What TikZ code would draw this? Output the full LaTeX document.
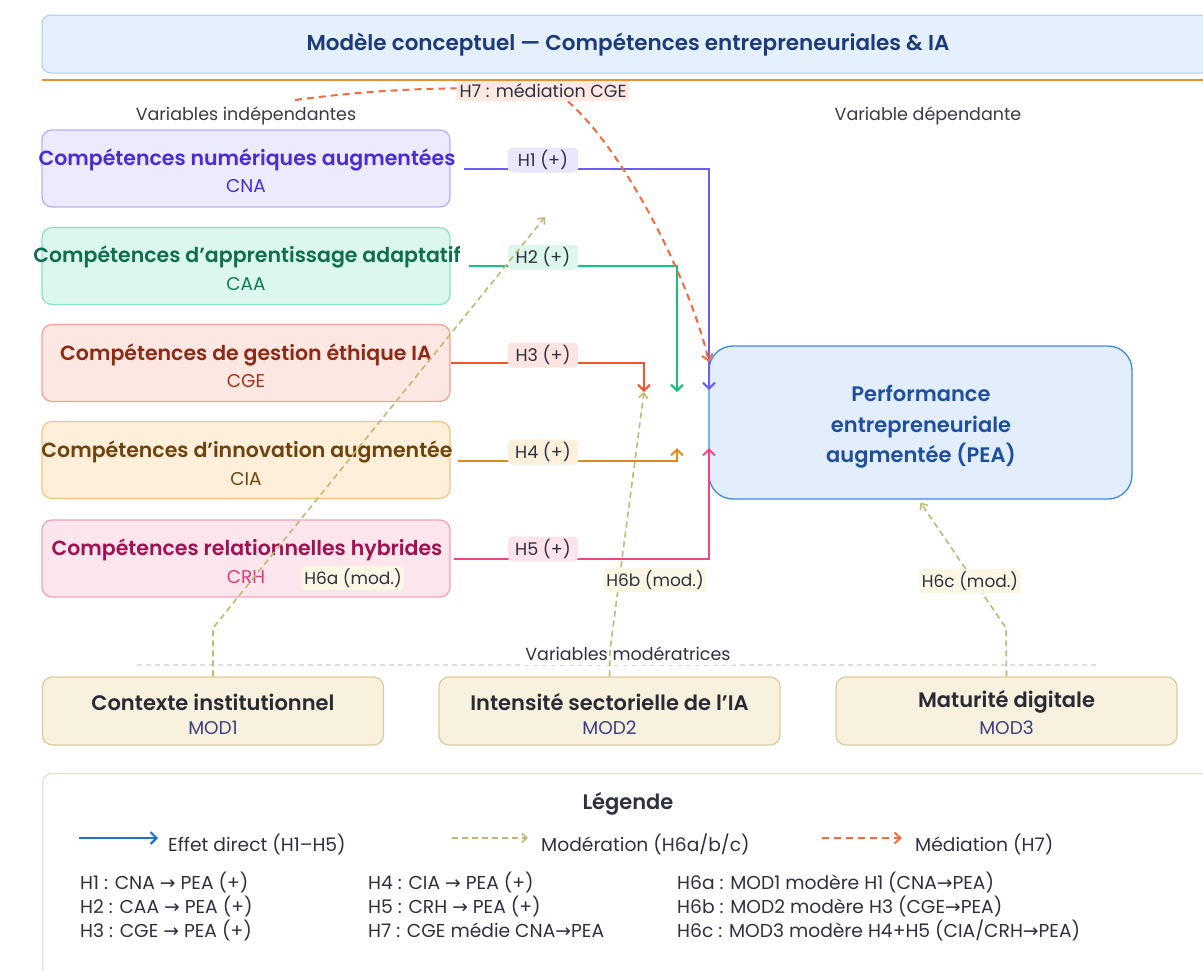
\documentclass[tikz,border=0pt]{standalone}
\usepackage{fontspec}
\setmainfont{Poppins}
\newfontfamily\pop{Poppins}
\newfontfamily\popsb{Poppins SemiBold}
\newfontfamily\dv{DejaVu Sans}
\usetikzlibrary{arrows.meta,calc}
\definecolor{ttlF}{HTML}{E4F0FC}\definecolor{ttlB}{HTML}{A9CBEF}\definecolor{ttlT}{HTML}{1D3B7A}
\definecolor{rule}{HTML}{E7902F}
\definecolor{hdr}{HTML}{3A3A48}
\definecolor{cnaF}{HTML}{ECEBFD}\definecolor{cnaB}{HTML}{B7AEF5}\definecolor{cnaT}{HTML}{4A2BD6}\definecolor{cnaL}{HTML}{6B5CF5}\definecolor{cnaH}{HTML}{E9E7FC}
\definecolor{caaF}{HTML}{DCF8EE}\definecolor{caaB}{HTML}{86E3C3}\definecolor{caaT}{HTML}{0F6E4D}\definecolor{caaL}{HTML}{16C07F}\definecolor{caaH}{HTML}{DDF7EC}
\definecolor{cgeF}{HTML}{FDE7E2}\definecolor{cgeB}{HTML}{F3A190}\definecolor{cgeT}{HTML}{8E2A14}\definecolor{cgeL}{HTML}{F2542D}\definecolor{cgeH}{HTML}{FCE5E0}
\definecolor{ciaF}{HTML}{FDEFD9}\definecolor{ciaB}{HTML}{F3C47E}\definecolor{ciaT}{HTML}{6E440C}\definecolor{ciaL}{HTML}{E08A1E}\definecolor{ciaH}{HTML}{FCEFDB}
\definecolor{crhF}{HTML}{FDE5EE}\definecolor{crhB}{HTML}{F3A0BF}\definecolor{crhT}{HTML}{A01150}\definecolor{crhL}{HTML}{F0447E}\definecolor{crhH}{HTML}{FCE4ED}
\definecolor{peaF}{HTML}{E2EEFC}\definecolor{peaB}{HTML}{3B8AE6}\definecolor{peaT}{HTML}{1E4F9E}
\definecolor{modF}{HTML}{F7F1DE}\definecolor{modB}{HTML}{DCCB9C}\definecolor{modT}{HTML}{2A2A35}\definecolor{modS}{HTML}{3D3F85}
\definecolor{modL}{HTML}{C2B874}\definecolor{modH}{HTML}{FBF7E4}
\definecolor{medL}{HTML}{F26A3E}\definecolor{medH}{HTML}{FDE9E2}
\definecolor{legT}{HTML}{2F3040}\definecolor{legB}{HTML}{E6E0CC}\definecolor{dirL}{HTML}{1E6FD0}
\definecolor{sep}{HTML}{DCDCDC}
\tikzset{
  ivbox/.style={draw, rounded corners=10pt, line width=1.2pt, minimum width=408pt, minimum height=77pt, inner sep=0pt},
  modbox/.style={draw=modB, fill=modF, rounded corners=10pt, line width=1.2pt, minimum width=341pt, minimum height=68pt, inner sep=0pt},
  btitle/.style={font=\popsb\fontsize{20.5}{24}\selectfont, inner sep=0pt},
  bsub/.style={font=\pop\fontsize{18.5}{22}\selectfont, inner sep=0pt},
  hlab/.style={font=\pop\fontsize{17.5}{20}\selectfont, text=legT, rounded corners=4pt, minimum width=70pt, minimum height=25pt, inner sep=2pt},
  mlab/.style={font=\pop\fontsize{17}{20}\selectfont, text=legT, fill=modH, rounded corners=3pt, inner sep=2.5pt},
  hdrtxt/.style={font=\pop\fontsize{17.5}{20}\selectfont, text=hdr, inner sep=1pt},
  direct/.style={line width=2pt, -{Straight Barb[length=6pt,width=12pt]}},
  modarr/.style={modL, line width=1.6pt, dash pattern=on 6pt off 4pt, -{Straight Barb[length=5pt,width=9pt]}},
  medarr/.style={medL, line width=2pt, dash pattern=on 7pt off 5pt, -{Straight Barb[length=6pt,width=11pt]}},
  legtxt/.style={font=\pop\fontsize{18.7}{21}\selectfont, text=legT, anchor=west, inner sep=0pt},
}
\begin{document}
\begin{tikzpicture}[x=1pt,y=-1pt]
\useasboundingbox (0,0) rectangle (1203,970);
\fill[white] (0,0) rectangle (1203,970);
% title
\node[draw=ttlB, fill=ttlF, rounded corners=9pt, line width=1pt, minimum width=1175pt, minimum height=58pt, inner sep=0pt] (title) at (629.5,44) {};
\node[font=\popsb\fontsize{21.5}{24}\selectfont, text=ttlT] (titletxt) at (628,45) {Modèle conceptuel — Compétences entrepreneuriales \& IA};
\draw[rule, line width=2pt] (42,80) coordinate (r0) -- (1210,80) coordinate (r1);
% headers
\node[hdrtxt] (hind) at (246,116) {Variables indépendantes};
\node[hdrtxt] (hdep) at (928,116) {Variable dépendante};
% PEA
\node[draw=peaB, fill=peaF, rounded corners=24pt, line width=1.3pt, minimum width=423pt, minimum height=153pt, inner sep=0pt] (pea) at (920.5,422.5) {};
\node[font=\popsb\fontsize{21}{30.5}\selectfont, text=peaT, align=center] (peatxt) at (921,427) {Performance\\entrepreneuriale\\augmentée (PEA)};
% independent variable boxes
\node[ivbox, draw=cnaB, fill=cnaF] (cna) at (246,168.5) {};
\node[btitle, text=cnaT] (cnat) at (247,160) {Compétences numériques augmentées};
\node[bsub, text=cnaT] (cnas) at (246,186) {CNA};
\node[ivbox, draw=caaB, fill=caaF] (caa) at (246,266) {};
\node[btitle, text=caaT] (caat) at (247,257) {Compétences d’apprentissage adaptatif};
\node[bsub, text=caaT!85!caaL] (caas) at (246,284) {CAA};
\node[ivbox, draw=cgeB, fill=cgeF] (cge) at (246,363) {};
\node[btitle, text=cgeT] (cget) at (246,355) {Compétences de gestion éthique IA};
\node[bsub, text=cgeT!80!cgeL] (cges) at (246,381) {CGE};
\node[ivbox, draw=ciaB, fill=ciaF] (cia) at (246,460) {};
\node[btitle, text=ciaT] (ciat) at (247,452) {Compétences d’innovation augmentée};
\node[bsub, text=ciaT] (cias) at (246,479) {CIA};
\node[ivbox, draw=crhB, fill=crhF] (crh) at (246,558.5) {};
\node[btitle, text=crhT] (crht) at (247,550) {Compétences relationnelles hybrides};
\node[bsub, text=crhL!80!crhT] (crhs) at (246,577) {CRH};
% end points
\coordinate (t1) at (709,390);
\coordinate (t2) at (677,392);
\coordinate (t3) at (644,392);
\coordinate (t4) at (677,448);
\coordinate (t5) at (709,448);
% direct effects
\draw[direct, cnaL] ($(cnat.east |- 0,169)+(8,0)$) -- (709,169) -- (t1);
\draw[direct, caaL] ($(caat.east |- 0,266)+(8,0)$) -- (677,266) -- (t2);
\draw[direct, cgeL] (cge.east |- 0,363) -- (644,363) -- (t3);
\draw[direct, ciaL] ($(ciat.east |- 0,461)+(5,0)$) -- (677,461) -- (t4);
\draw[direct, crhL] ($(crht.east |- 0,559)+(11,0)$) -- (709,559) -- (t5);
\node[hlab, fill=cnaH] (h1) at (543,160) {H1 (+)};
\node[hlab, fill=caaH] (h2) at (543,257) {H2 (+)};
\node[hlab, fill=cgeH] (h3) at (543,355) {H3 (+)};
\node[hlab, fill=ciaH] (h4) at (543,452) {H4 (+)};
\node[hlab, fill=crhH] (h5) at (543,549) {H5 (+)};
% separator
\draw[sep, line width=1.2pt, dash pattern=on 5pt off 4pt] (137,665) coordinate (s0) -- (1097,665) coordinate (s1);
\node[font=\pop\fontsize{17.5}{20}\selectfont, text=legT, fill=white, inner sep=4pt] (modhdr) at (628,654) {Variables modératrices};
% moderators
\node[modbox] (mod1) at (213,711) {};
\node[font=\popsb\fontsize{21}{24}\selectfont, text=modT, inner sep=0pt] (mod1t) at (213,702) {Contexte institutionnel};
\node[bsub, text=modS] (mod1s) at (213,728) {MOD1};
\node[modbox] (mod2) at (609.5,711) {};
\node[font=\popsb\fontsize{21}{24}\selectfont, text=modT, inner sep=0pt] (mod2t) at (609.5,702) {Intensité sectorielle de l’IA};
\node[bsub, text=modS] (mod2s) at (609.5,728) {MOD2};
\node[modbox] (mod3) at (1006.5,711) {};
\node[font=\popsb\fontsize{21}{24}\selectfont, text=modT, inner sep=0pt] (mod3t) at (1006.5,702) {Maturité digitale};
\node[bsub, text=modS] (mod3s) at (1006.5,728) {MOD3};
% moderation arrows
\coordinate (m1) at (545,217);
\draw[modarr] (mod1.north) -- (213,628) -- (m1);
\draw[modarr] (mod2.north) -- (610,650) -- (t3);
\draw[modarr] (mod3.north) -- (1006,628) -- ([yshift=-3pt]pea.south);
\node[mlab] (h6a) at (353,578) {H6a (mod.)};
\node[mlab] (h6b) at (655,580) {H6b (mod.)};
\node[mlab] (h6c) at (970,581) {H6c (mod.)};
% mediation
\coordinate (h7s) at (295,100);
\coordinate (h7e) at (709,362);
\draw[medarr] (h7s) .. controls (400,86) and (500,85) .. (560,95) .. controls (620,140) and (690,280) .. (h7e);
\node[font=\pop\fontsize{17.5}{20}\selectfont, text=legT, fill=medH, rounded corners=4pt, inner sep=3pt] (h7) at (543,91) {H7 : médiation CGE};
% legend
\node[draw=legB, fill=white, rounded corners=10pt, line width=1.2pt, minimum width=1175pt, minimum height=210pt, inner sep=0pt, anchor=north west] (leg) at (42,773) {};
\node[font=\popsb\fontsize{21}{24}\selectfont, text=legT] (legt) at (628,804) {Légende};
\coordinate (la0) at (79,838); \coordinate (la1) at (158,838);
\draw[dirL, line width=2pt, -{Straight Barb[length=6pt,width=12pt]}] (la0) -- (la1);
\node[legtxt] (l1) at (168,844) {Effet direct (H1–H5)};
\coordinate (lb0) at (452,838); \coordinate (lb1) at (528,838);
\draw[modarr] (lb0) -- (lb1);
\node[legtxt] (l2) at (541,844) {Modération (H6a/b/c)};
\coordinate (lc0) at (822,838); \coordinate (lc1) at (902,838);
\draw[medarr] (lc0) -- (lc1);
\node[legtxt] (l3) at (915,844) {Médiation (H7)};
\node[legtxt] (r11) at (80,882) {H1 : CNA {\dv→} PEA (+)};
\node[legtxt] (r21) at (80,906) {H2 : CAA {\dv→} PEA (+)};
\node[legtxt] (r31) at (80,930) {H3 : CGE {\dv→} PEA (+)};
\node[legtxt] (r12) at (368,882) {H4 : CIA {\dv→} PEA (+)};
\node[legtxt] (r22) at (368,906) {H5 : CRH {\dv→} PEA (+)};
\node[legtxt] (r32) at (368,930) {H7 : CGE médie CNA{\dv→}PEA};
\node[legtxt] (r13) at (677,882) {H6a : MOD1 modère H1 (CNA{\dv→}PEA)};
\node[legtxt] (r23) at (677,906) {H6b : MOD2 modère H3 (CGE{\dv→}PEA)};
\node[legtxt] (r33) at (677,930) {H6c : MOD3 modère H4+H5 (CIA/CRH{\dv→}PEA)};
\end{tikzpicture}
\end{document}
